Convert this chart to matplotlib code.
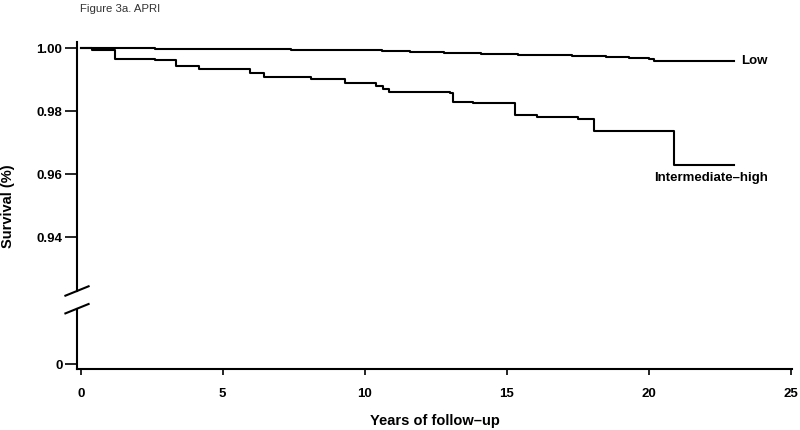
import numpy as np
import matplotlib
matplotlib.use("Agg")
import matplotlib.pyplot as plt
from matplotlib.lines import Line2D

plt.rcParams['font.family'] = ['Liberation Sans', 'DejaVu Sans']

# Kaplan-Meier steps (years, survival)
low_t = [0, 2.6, 5.5, 7.4, 10.0, 10.6, 11.6, 12.8, 14.1, 15.4, 16.0, 17.3, 17.9, 18.5, 19.3, 20.0, 20.2, 23.0]
low_s = [1.0000, 0.9999, 0.9998, 0.9996, 0.9994, 0.9991, 0.9988, 0.9985, 0.9981, 0.9979,
         0.9978, 0.9977, 0.9975, 0.9973, 0.9969, 0.9966, 0.9961, 0.9961]

high_t = [0, 0.4, 1.2, 2.6, 3.35, 4.15, 5.97, 6.45, 8.1, 9.3, 10.4, 10.65, 10.87, 13.0, 13.1,
          13.8, 15.3, 16.07, 17.5, 18.06, 20.9, 23.0]
high_s = [1.0000, 0.9993, 0.9967, 0.9962, 0.9944, 0.9934, 0.9922, 0.9908, 0.9903, 0.9889, 0.9881,
          0.9870, 0.9862, 0.9857, 0.9831, 0.9827, 0.9788, 0.9781, 0.9777, 0.9738, 0.9630, 0.9630]

x_ticks = [0, 5, 10, 15, 20, 25]
y_ticks_top = [0.94, 0.96, 0.98, 1.00]
y_ticks_bot = [0]

lw = 1.5
tick_font = dict(fontsize=9.5, fontweight='bold')

fig = plt.figure(figsize=(8, 4.3), dpi=100)
left, width = 0.09625, 0.89375
ax = fig.add_axes([left, 0.3233, width, 0.5798])
axb = fig.add_axes([left, 0.14116, width, 0.14094], sharex=ax)

ax.step(high_t, high_s, where='post', color='black', lw=lw)
ax.step(low_t, low_s, where='post', color='black', lw=lw)

ax.text(24.2, low_s[-1], 'Low', ha='right', va='center', **tick_font)
ax.text(24.2, 0.9589, 'Intermediate\u2013high', ha='right', va='center', **tick_font)

ax.set_ylim(0.92295, 1.0021)
ax.set_xlim(-0.13, 25.05)
axb.set_ylim(-0.09, 1.0)

for a in (ax, axb):
    a.spines['top'].set_visible(False)
    a.spines['right'].set_visible(False)
    a.spines['left'].set_linewidth(lw)
    a.spines['bottom'].set_linewidth(lw)
    a.tick_params(axis='y', length=8.5, width=1.2, pad=2)
ax.spines['bottom'].set_visible(False)
ax.tick_params(axis='x', bottom=False, labelbottom=False)

ax.set_yticks(y_ticks_top)
ax.set_yticklabels([f'{v:.2f}' for v in y_ticks_top], **tick_font)
axb.set_yticks(y_ticks_bot)
axb.set_yticklabels(['0'], **tick_font)

axb.set_xticks(x_ticks)
axb.set_xticklabels([str(v) for v in x_ticks], **tick_font)
axb.tick_params(axis='x', length=4.5, width=1.2, pad=9)

# break marks on the y axis
dx, dy = 11.6 / 800, 4.7 / 430
for yc in (0.3233, 0.14116 + 0.14094):
    fig.lines.append(Line2D([left - dx, left + dx], [yc - dy, yc + dy], color='black',
                            lw=lw, transform=fig.transFigure))

fig.text(0.5435, 0.021, 'Years of follow\u2013up', ha='center', va='center', fontsize=10.5, fontweight='bold')
fig.text(0.01, 0.52, 'Survival (%)', rotation=90, ha='center', va='center', fontsize=10.5, fontweight='bold')
fig.text(0.1, 0.98, 'Figure 3a. APRI', ha='left', va='center', fontsize=8.2, color='#333333')

fig.savefig('out.png', dpi=100)
